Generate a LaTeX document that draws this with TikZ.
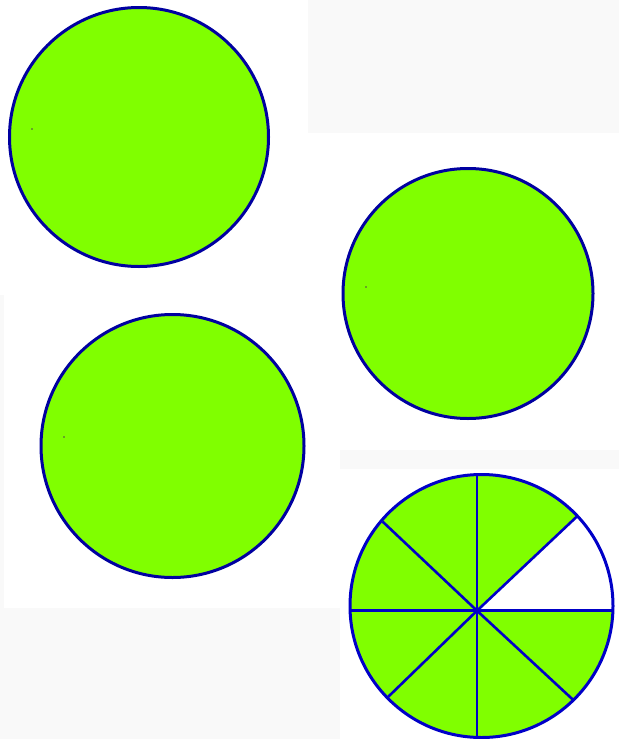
\documentclass[tikz,border=0pt]{standalone}
\definecolor{lime}{RGB}{128,255,0}
\definecolor{rim}{RGB}{0,0,160}
\definecolor{spoke}{RGB}{0,0,200}
\definecolor{patt}{RGB}{249,249,249}
\tikzset{
  disc/.style={fill=lime, draw=rim, line width=3pt},
  spokeline/.style={draw=spoke, line width=2.6pt},
  bgpatch/.style={fill=patt, draw=none}
}
\begin{document}
\begin{tikzpicture}[x=1pt,y=-1pt]
\useasboundingbox (0,0) rectangle (619,739);
\fill[white] (0,0) rectangle (619,739);
% faint background patches
\fill[bgpatch] (308,0) rectangle (619,133);
\fill[bgpatch] (340,450) rectangle (619,469);
\fill[bgpatch] (0,608) rectangle (340,739);
\fill[bgpatch] (0,295) rectangle (4,608);
% three full discs
\draw[disc] (139,137) circle[radius=129.5];
\fill[black!70] (32,129) circle[radius=0.9];
\draw[disc] (468,293.5) circle[radius=125];
\fill[black!70] (366,287) circle[radius=0.9];
\draw[disc] (172.5,446) circle[radius=131.5];
\fill[black!70] (64,437) circle[radius=0.9];
% pie cut in eight
\coordinate (pc) at (481.5,606);
\coordinate (hub) at (477,610.7);
\fill[lime] (pc) circle[radius=131.5];
\fill[white] (hub) -- (613,610.7) arc[start angle=2, end angle=-43.2, radius=131.5] -- cycle;
\coordinate (nN) at (477,475);
\coordinate (nS) at (477,737);
\coordinate (nW) at (350,610.7);
\coordinate (nE) at (613,610.7);
\coordinate (nNE) at (576.7,516.7);
\coordinate (nNW) at (382.7,521.7);
\coordinate (nSW) at (388.3,696.7);
\coordinate (nSE) at (573.3,700);
\draw[spokeline] (nN) -- (nS);
\draw[spokeline] (nW) -- (nE);
\draw[spokeline] (nNE) -- (hub) -- (nSW);
\draw[spokeline] (nNW) -- (hub) -- (nSE);
\fill[spoke] (hub) circle[radius=3];
\draw[draw=spoke, line width=3pt] (pc) circle[radius=131.5];
\end{tikzpicture}
\end{document}
